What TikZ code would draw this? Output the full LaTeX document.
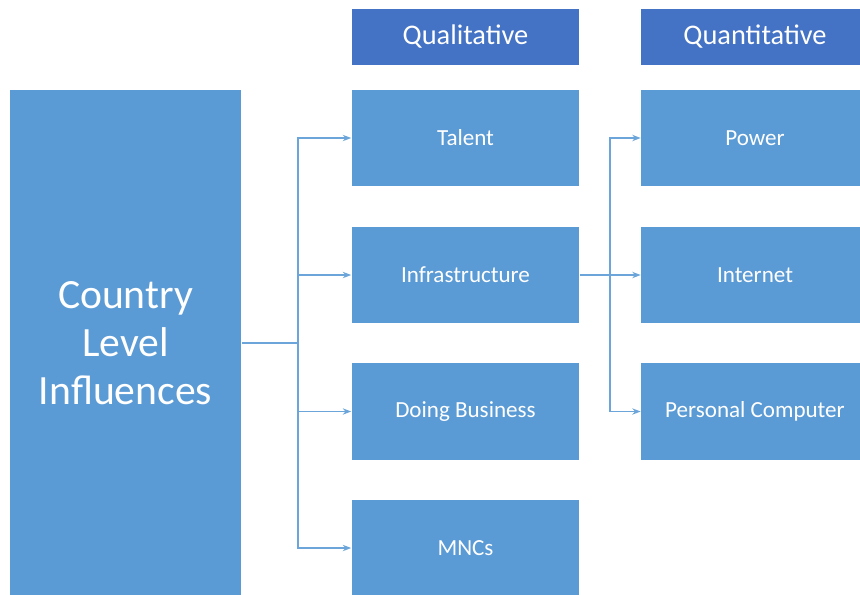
\documentclass[tikz,border=0pt]{standalone}
\usepackage{fontspec}
\setmainfont{Carlito}
\usetikzlibrary{arrows.meta, positioning, calc}
\definecolor{hdr}{HTML}{4472C4}
\definecolor{cell}{HTML}{5B9BD5}

\begin{document}
\begin{tikzpicture}[x=0.025cm, y=-0.025cm, >={Stealth[length=6pt, width=4.5pt]},
      line width=1.1pt,
      every node/.style={text=white, inner sep=0pt},
      cellbox/.style={fill=cell, minimum width=5.675cm, minimum height=2.4cm,
        font=\fontsize{16.4}{19}\selectfont},
      hdrbox/.style={fill=hdr, minimum width=5.675cm, minimum height=1.4cm,
        font=\fontsize{20.2}{24}\selectfont},
      link/.style={draw=cell!90!white}]
    \useasboundingbox (0,0) rectangle (860,594);
    \clip (0,0) rectangle (860,594);
    % main factor
    \node[fill=cell, minimum width=5.775cm, minimum height=12.65cm,
      align=center, font=\fontsize{29.6}{34}\selectfont]
      (country) at (125.5,343) {Country\\Level\\Influences};
    % column headers
    \node[hdrbox] (qual) at (465.5,37) {Qualitative};
    \node[hdrbox] (quant) at (755,37) {Quantitative};
    % qualitative column
    \foreach \n/\t/\y in {tal/Talent/138, inf/Infrastructure/275,
        dob/Doing Business/411.5, mnc/MNCs/548}{
      \node[cellbox] (\n) at (465.5,\y) {\t};
    }
    % quantitative column
    \foreach \n/\t/\y in {pow/Power/138, int/Internet/275,
        pc/Personal Computer/411.5}{
      \node[cellbox] (\n) at (755,\y) {\t};
    }
    % connectors
    \draw[link] (country.east) -- ++(56,0) coordinate (j1);
    \foreach \n in {tal,inf,dob,mnc}{
      \draw[link, ->] (j1) |- (\n.west);
    }
    \draw[link, ->] (inf.east) -- (int.west);
    \coordinate (j2) at ($(inf.east)!0.5!(int.west)$);
    \foreach \n in {pow,pc}{
      \draw[link, ->] (j2) |- (\n.west);
    }
  \end{tikzpicture}
\end{document}
